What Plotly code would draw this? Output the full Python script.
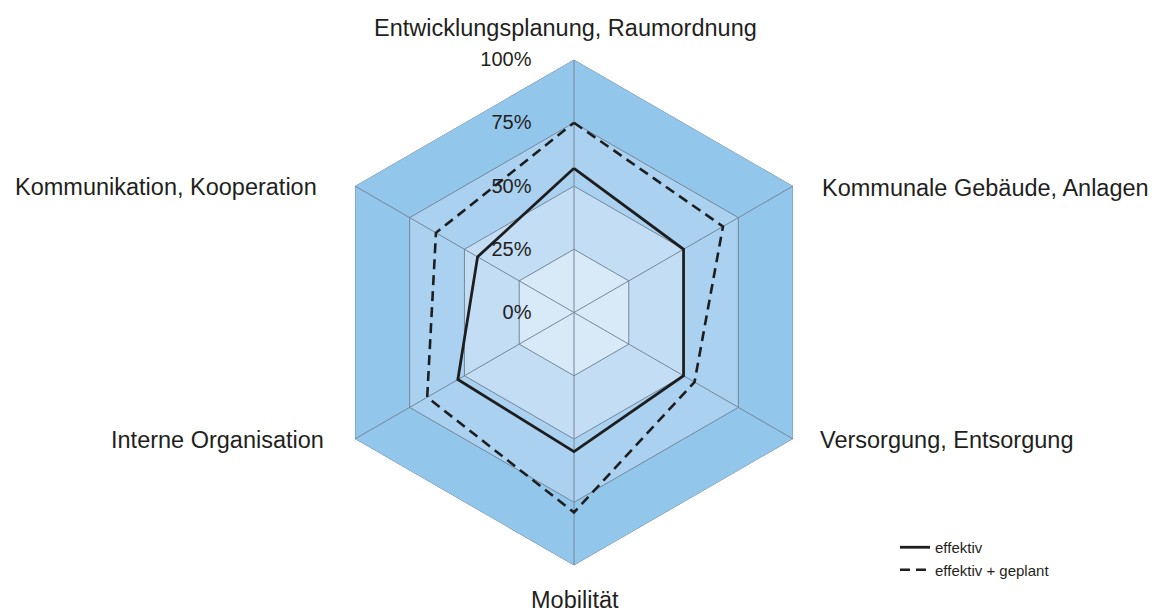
import plotly.graph_objects as go

categories = [
    "Entwicklungsplanung, Raumordnung",
    "Kommunale Gebäude, Anlagen",
    "Versorgung, Entsorgung",
    "Mobilität",
    "Interne Organisation",
    "Kommunikation, Kooperation",
]
effektiv = [57, 50, 50, 55, 53, 44]
effektiv_geplant = [75, 68, 55, 79, 67, 63]
ring_levels = [100, 75, 50, 25]
ring_colors = ["#93c6eb", "#aad1f0", "#c2ddf4", "#d8e9f8"]
tick_values = [0, 25, 50, 75, 100]
tick_labels = ["0%", "25%", "50%", "75%", "100%"]
series_names = ["effektiv", "effektiv + geplant"]

FONT = "Liberation Sans, Arial, sans-serif"
TXT = "#231f20"
GRID = "#74879a"

fig = go.Figure()

closed = categories + [categories[0]]

# shaded bands
for lvl, col in zip(ring_levels, ring_colors):
    fig.add_trace(go.Scatterpolar(
        r=[lvl] * len(closed), theta=closed, mode="lines",
        fill="toself", fillcolor=col,
        line=dict(color=GRID, width=1),
        showlegend=False, hoverinfo="skip",
    ))

# spokes
sr, st = [], []
for c in categories:
    sr += [0, ring_levels[0], None]
    st += [c, c, None]
fig.add_trace(go.Scatterpolar(
    r=sr, theta=st, mode="lines", line=dict(color=GRID, width=1),
    showlegend=False, hoverinfo="skip", connectgaps=False,
))

fig.add_trace(go.Scatterpolar(
    r=effektiv + [effektiv[0]], theta=closed, mode="lines",
    name=series_names[0], line=dict(color="#1e1e1e", width=2.8),
))
fig.add_trace(go.Scatterpolar(
    r=effektiv_geplant + [effektiv_geplant[0]], theta=closed, mode="lines",
    name=series_names[1], line=dict(color="#1e1e1e", width=2.6, dash="10px,6px"),
))

W, H = 1155, 612
cx, cy, R = 574, 312.5, 253

fig.update_layout(
    width=W, height=H,
    margin=dict(l=0, r=0, t=0, b=0),
    paper_bgcolor="white", plot_bgcolor="white",
    font=dict(family=FONT, color=TXT),
    polar=dict(
        domain=dict(x=[(cx - R) / W, (cx + R) / W], y=[1 - (cy + R) / H, 1 - (cy - R) / H]),
        gridshape="linear",
        bgcolor="rgba(0,0,0,0)",
        angularaxis=dict(
            type="category", categoryarray=categories, categoryorder="array",
            rotation=90, direction="clockwise",
            showticklabels=False, showgrid=False, showline=False, ticks="",
        ),
        radialaxis=dict(
            range=[0, 100], angle=90, tickangle=90, side="counterclockwise",
            tickvals=tick_values, ticktext=tick_labels,
            showgrid=False, showline=False,
            ticks="outside", ticklen=35, tickcolor="rgba(0,0,0,0)",
            tickfont=dict(size=20, family=FONT, color=TXT),
            layer="above traces",
        ),
    ),
    legend=dict(
        x=895 / W, xanchor="left", y=1 - 531 / H, yanchor="top",
        font=dict(size=15, family=FONT, color=TXT),
        bgcolor="rgba(0,0,0,0)", tracegroupgap=0,
    ),
)

label_pos = [
    (565, 28, "center"),
    (820, 188, "left"),
    (818, 440, "left"),
    (575, 600, "center"),
    (326, 440, "right"),
    (319, 187, "right"),
]
for cat, (x, y, al) in zip(categories, label_pos):
    fig.add_annotation(
        x=x / W, y=1 - y / H, xref="paper", yref="paper", text=cat,
        showarrow=False, xanchor=al, yanchor="middle",
        font=dict(size=23.5, family=FONT, color=TXT),
    )

fig.write_html("out.html")
